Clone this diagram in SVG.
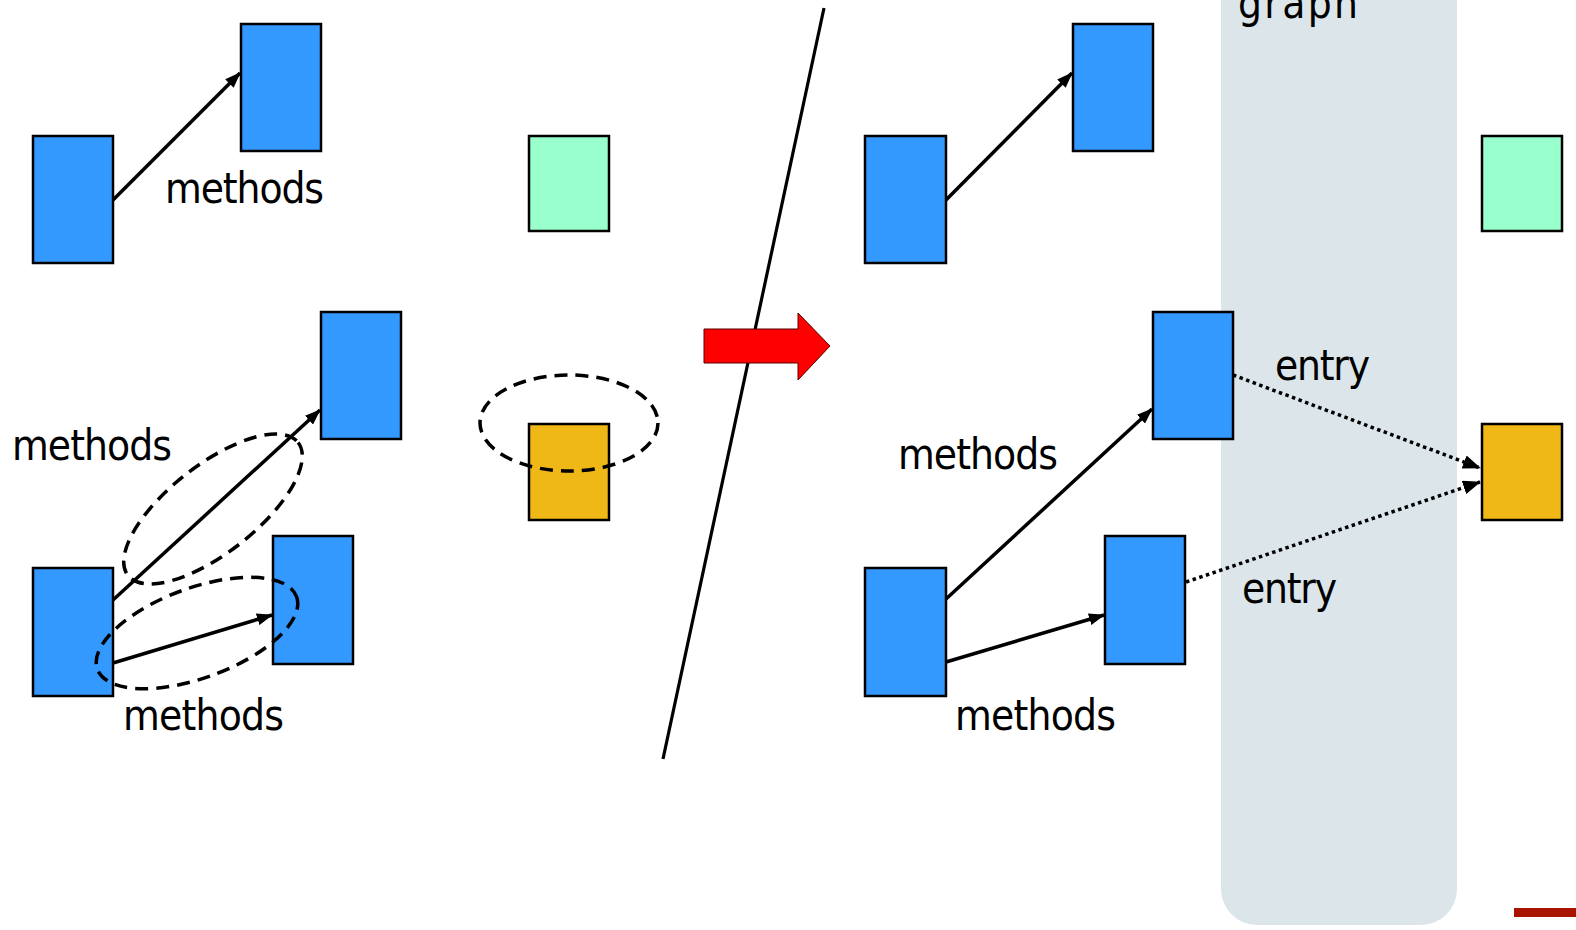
<svg xmlns="http://www.w3.org/2000/svg" width="1576" height="930" viewBox="0 0 1576 930">
<defs>
<style>
.blue{fill:#3399ff;stroke:#000;stroke-width:2.5}
.green{fill:#99ffcc;stroke:#000;stroke-width:2.5}
.orange{fill:#efb817;stroke:#000;stroke-width:2.5}
.lbl{font-family:"DejaVu Sans Condensed","DejaVu Sans",sans-serif;font-size:42px;fill:#000}
.arr{stroke:#000;stroke-width:3.5;fill:none;marker-end:url(#ah)}
.dot{stroke:#000;stroke-width:3.5;fill:none;stroke-dasharray:3.5 3.5;marker-end:url(#ah2)}
.dash{stroke:#000;stroke-width:3.5;fill:none;stroke-dasharray:13 8}
</style>
<marker id="ah" markerUnits="userSpaceOnUse" markerWidth="16" markerHeight="12" refX="15" refY="6" orient="auto"><path d="M0,0 L16,6 L0,12 z" fill="#000"/></marker>
<marker id="ah2" markerUnits="userSpaceOnUse" markerWidth="18" markerHeight="14" refX="17" refY="7" orient="auto"><path d="M0,0 L18,7 L0,14 z" fill="#000"/></marker>
</defs>
<rect width="1576" height="930" fill="#fff"/>
<g id="panel"><rect x="1221" y="-60" width="236" height="985" rx="36" fill="#dce6ea"/>
<text class="lbl" x="1238" y="18" textLength="120">graph</text></g>
<rect id="redbar" x="1514" y="908" width="62" height="9" fill="#a81400"/>
<line id="divider" x1="824" y1="8" x2="663" y2="759" stroke="#000" stroke-width="3.2"/>
<path id="bigarrow" d="M704,329 L798,329 L798,313 L830,346 L798,380 L798,363 L704,363 z" fill="#ff0000" stroke="#550000" stroke-width="1"/>
<g id="connectors">
<line class="arr" x1="113" y1="200" x2="240" y2="73"/>
<line class="arr" x1="113" y1="600" x2="320" y2="410"/>
<line class="arr" x1="113" y1="663" x2="272" y2="615"/>
<line class="arr" x1="946" y1="200" x2="1072" y2="73"/>
<line class="arr" x1="946" y1="599" x2="1152" y2="409"/>
<line class="arr" x1="946" y1="662" x2="1104" y2="615"/>
<line class="dot" x1="1233" y1="375" x2="1480" y2="468"/>
<line class="dot" x1="1186" y1="582" x2="1480" y2="482"/>
</g>
<g id="n1"><rect class="blue" x="33" y="136" width="80" height="127"/></g>
<g id="n2"><rect class="blue" x="241" y="24" width="80" height="127"/></g>
<g id="n3"><rect class="green" x="529" y="136" width="80" height="95"/></g>
<g id="n4"><rect class="blue" x="321" y="312" width="80" height="127"/></g>
<g id="n5"><rect class="blue" x="273" y="536" width="80" height="128"/></g>
<g id="n6"><rect class="blue" x="33" y="568" width="80" height="128"/></g>
<g id="n7"><rect class="orange" x="529" y="424" width="80" height="96"/></g>
<g id="n8"><rect class="blue" x="865" y="136" width="81" height="127"/></g>
<g id="n9"><rect class="blue" x="1073" y="24" width="80" height="127"/></g>
<g id="n10"><rect class="green" x="1482" y="136" width="80" height="95"/></g>
<g id="n11"><rect class="blue" x="1153" y="312" width="80" height="127"/></g>
<g id="n12"><rect class="blue" x="1105" y="536" width="80" height="128"/></g>
<g id="n13"><rect class="blue" x="865" y="568" width="81" height="128"/></g>
<g id="n14"><rect class="orange" x="1482" y="424" width="80" height="96"/></g>
<g id="groups">
<ellipse class="dash" cx="213" cy="509" rx="108" ry="44" transform="rotate(-38 213 509)"/>
<ellipse class="dash" cx="197" cy="633" rx="106" ry="45" transform="rotate(-20 197 633)"/>
<ellipse class="dash" cx="569" cy="423" rx="89" ry="48"/>
</g>
<g id="labels">
<text class="lbl" x="165" y="203" textLength="159">methods</text>
<text class="lbl" x="12" y="460" textLength="160">methods</text>
<text class="lbl" x="123" y="730" textLength="161">methods</text>
<text class="lbl" x="898" y="469" textLength="160">methods</text>
<text class="lbl" x="955" y="730" textLength="161">methods</text>
<text class="lbl" x="1275" y="380" textLength="95">entry</text>
<text class="lbl" x="1242" y="603" textLength="95">entry</text>
</g>
</svg>
